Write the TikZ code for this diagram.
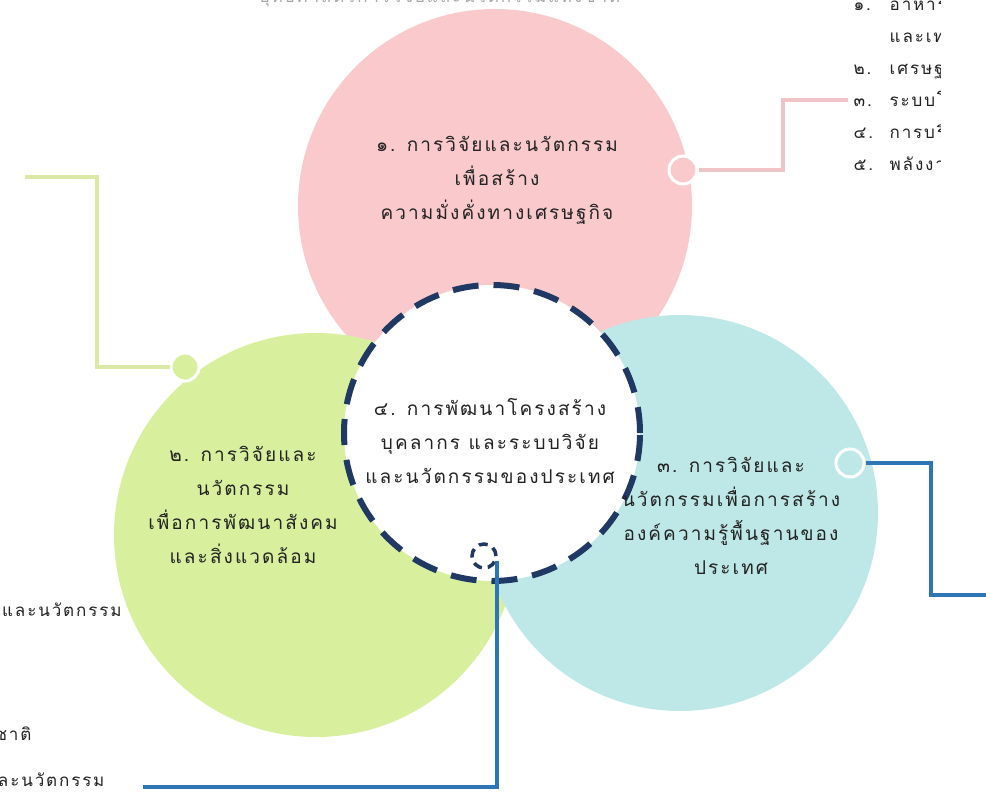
\documentclass[tikz,border=0pt]{standalone}
\usepackage{fontspec}
\newfontfamily\thaifont[Script=Thai,LetterSpace=11]{Loma}
\usetikzlibrary{calc,positioning,matrix}
\definecolor{pinkc}{RGB}{249,201,203}
\definecolor{greenc}{RGB}{216,240,158}
\definecolor{tealc}{RGB}{190,232,231}
\definecolor{pinkl}{RGB}{240,196,198}
\definecolor{greenl}{RGB}{218,234,166}
\definecolor{bluel}{RGB}{46,117,182}
\definecolor{navyc}{RGB}{31,56,100}
\definecolor{txtc}{RGB}{34,34,34}

\begin{document}
\begin{tikzpicture}[x=1pt,y=-1pt,
  disc/.style={circle,inner sep=0pt},
  lbl/.style={align=center,text=txtc,font=\thaifont\fontsize{19}{34}\selectfont},
  side/.style={text=txtc,font=\thaifont\fontsize{17}{20}\selectfont},
  ring/.style={circle,draw=white,line width=3pt,minimum size=28pt,inner sep=0pt},
  link/.style={line width=4.5pt}]
%
  \useasboundingbox (0,0) rectangle (986,793) ;
  \clip (0,0) rectangle (986,793) ;
%
  \node[disc,fill=pinkc,minimum size=394pt] (pink) at (495,206) {} ;
  \node[disc,fill=greenc,minimum size=404pt] (green) at (316,535) {} ;
  \node[disc,fill=tealc,minimum size=396pt] (teal) at (680,513) {} ;
  \node[disc,fill=white,draw=navyc,line width=6pt,dash pattern=on 26pt off 15pt,
        minimum size=296pt] (core) at (492,433) {} ;
%
  \coordinate (pk1) at (783,100) ; \coordinate (pk2) at (848,100) ;
  \coordinate (gn1) at (97,177) ;  \coordinate (gn2) at (25,177) ;
  \coordinate (tl1) at (931,595) ; \coordinate (tl2) at (995,595) ;
  \coordinate (bl1) at (143,787) ;
%
  \node[ring,fill=pinkc] (mpink) at (683,170) {} ;
  \node[ring,fill=greenc] (mgreen) at (185,367) {} ;
  \node[ring,fill=tealc] (mteal) at (850,463) {} ;
  \node[circle,fill=white,draw=navyc,line width=3.5pt,dash pattern=on 9pt off 6pt,
        minimum size=24pt,inner sep=0pt] (mcore) at (484,556) {} ;
%
  \draw[link,pinkl] (mpink.east) -| (pk1) -- (pk2) ;
  \draw[link,greenl] (mgreen.west) -| (gn1) -- (gn2) ;
  \draw[link,bluel] (mteal.east) -| (tl1) -- (tl2) ;
  \draw[link,bluel] (mcore.-20) |- (bl1) ;
%
  \node[lbl] (pinktxt) at (497,180) {๑. การวิจัยและนวัตกรรม\\เพื่อสร้าง\\ความมั่งคั่งทางเศรษฐกิจ} ;
  \node[lbl] (coretxt) at (490,441) {๔. การพัฒนาโครงสร้าง\\บุคลากร และระบบวิจัย\\และนวัตกรรมของประเทศ} ;
  \node[lbl] (greentxt) at (243,505) {๒. การวิจัยและ\\นวัตกรรม\\เพื่อการพัฒนาสังคม\\และสิ่งแวดล้อม} ;
  \node[lbl] (tealtxt) at (731,516) {๓. การวิจัยและ\\นวัตกรรมเพื่อการสร้าง\\องค์ความรู้พื้นฐานของ\\ประเทศ} ;
%
  \begin{scope}
    \clip (840,0) rectangle (940,200) ;
    \matrix[matrix of nodes,nodes={side,anchor=base west},column sep=10pt,
            row sep={32pt,between origins},matrix anchor=list-1-1.base west] (list) at (850,10) {
    ๑. & อาหาร การเกษตร \\
       & และเทคโนโลยีชีวภาพ \\
    ๒. & เศรษฐกิจดิจิทัล \\
    ๓. & ระบบโลจิสติกส์ \\
    ๔. & การบริการ \\
    ๕. & พลังงานและวัสดุ \\
    } ;
  \end{scope}
%
  \node[side,anchor=base,text=gray!70] (title) at (440,2) {ยุทธศาสตร์การวิจัยและนวัตกรรมแห่งชาติ} ;
  \node[side,anchor=base east] (low1) at (125,616) {การพัฒนาระบบวิจัยและนวัตกรรม} ;
  \node[side,anchor=base east] (low2) at (35,740) {แห่งชาติ} ;
  \node[side,anchor=base east] (low3) at (108,786) {และนวัตกรรม} ;

\end{tikzpicture}
\end{document}
